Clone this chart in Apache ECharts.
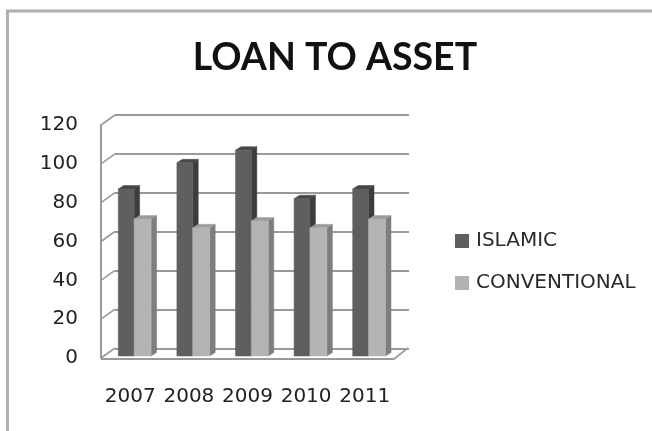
<!DOCTYPE html>
<html><head><meta charset="utf-8">
<style>html,body{margin:0;padding:0;background:#fff}#c{width:652px;height:431px}</style>
<script src="https://cdn.jsdelivr.net/npm/echarts@6/dist/echarts.min.js"></script>
</head><body><div id="c"></div>
<script>
const titleText = 'LOAN TO ASSET';
const categories = ['2007','2008','2009','2010','2011'];
const islamic = [86, 99.5, 106, 81, 86];
const conventional = [70.5, 66, 69.5, 66, 70.5];
const yTicks = [0,20,40,60,80,100,120];
const FONT = '"DejaVu Sans", sans-serif';
const DX = 14, DY = -10, LINE = '#9a9a9a';

function poly(points, fill){
  return {type:'polygon', shape:{points}, style:{fill, stroke:fill, lineWidth:0.5}};
}
function bar3d(offset, wFrac, front, side, top){
  return function(params, api){
    const band = api.size([1,0])[0];
    const base = api.coord([api.value(0), 0]);
    const tip = api.coord([api.value(0), api.value(1)]);
    const x0 = base[0] + band*offset, x1 = x0 + band*wFrac;
    const y0 = base[1] - 2, y1 = tip[1] - 2, dx = 5.5, dy = -3.5;
    return {type:'group', children:[
      poly([[x1,y0],[x1+dx,y0+dy],[x1+dx,y1+dy],[x1,y1]], side),
      poly([[x0,y1],[x1,y1],[x1+dx,y1+dy],[x0+dx,y1+dy]], top),
      poly([[x0,y0],[x1,y0],[x1,y1],[x0,y1]], front)
    ]};
  };
}
function line(a,b,w){
  return {type:'line', shape:{x1:a[0],y1:a[1],x2:b[0],y2:b[1]}, style:{stroke:LINE, lineWidth:w||1.6}};
}
function frame(params, api){
  const v = api.value(0);
  const band = api.size([1,0])[0];
  const p = api.coord([0, v]);
  const left = p[0] - band/2, y = p[1];
  const kids = [line([left,y],[left+DX,y+DY])];
  if (v === 0) {
    const right = left + band*categories.length;
    kids.push(line([left,y+1],[right,y+1],2));
    kids.push(line([right,y+1],[right+DX,y+DY]));
  }
  return {type:'group', children:kids};
}
const chart = echarts.init(document.getElementById('c'), null, {renderer:'canvas'});
chart.setOption({
  animation:false,
  backgroundColor:'#fff',
  title:{text:titleText, left:330, top:34, textAlign:'center',
    textStyle:{fontFamily:'Lato, sans-serif', fontWeight:'bold', fontSize:37.5, color:'#111'}},
  legend:{orient:'vertical', left:450, top:226, itemWidth:14, itemHeight:14, itemGap:22,
    icon:'rect', data:['ISLAMIC','CONVENTIONAL'],
    textStyle:{fontFamily:FONT, fontSize:20, color:'#2a2a2a', padding:[0,0,0,2]}},
  grid:[
    {left:101, top:125, width:293, height:233},
    {left:115, top:115, width:294, height:234}
  ],
  xAxis:[
    {type:'category', gridIndex:0, data:categories, axisLine:{show:false}, axisTick:{show:false},
      axisLabel:{interval:0, hideOverlap:false, margin:29, fontFamily:FONT, fontSize:20, color:'#222'}},
    {type:'category', gridIndex:1, data:categories, show:false}
  ],
  yAxis:[
    {type:'value', gridIndex:0, min:0, max:120, interval:20, splitLine:{show:false},
      axisLine:{show:true, lineStyle:{color:LINE, width:2}}, axisTick:{show:false},
      axisLabel:{margin:23, fontFamily:FONT, fontSize:20, color:'#222'}},
    {type:'value', gridIndex:1, min:0, max:120, interval:20,
      axisLine:{show:false}, axisTick:{show:false}, axisLabel:{show:false},
      splitLine:{show:true, lineStyle:{color:LINE, width:2}}}
  ],
  graphic:[
    {type:'line', shape:{x1:7.5,y1:11,x2:7.5,y2:431}, style:{stroke:'#b0b0b0', lineWidth:3}, silent:true},
    {type:'line', shape:{x1:6,y1:11,x2:652,y2:11}, style:{stroke:'#b0b0b0', lineWidth:3}, silent:true}
  ],
  series:[
    {type:'custom', name:'frame', xAxisIndex:0, yAxisIndex:0, z:1, silent:true,
      data:yTicks.map(v=>[v]), encode:{y:0}, renderItem:frame, clip:false},
    {type:'custom', name:'ISLAMIC', xAxisIndex:0, yAxisIndex:0, z:3, clip:false,
      itemStyle:{color:'#5f5f5f'},
      data:islamic.map((v,i)=>[i,v]), encode:{x:0,y:1},
      renderItem:bar3d(-0.205, 0.27, '#5f5f5f', '#3c3c3c', '#474747')},
    {type:'custom', name:'CONVENTIONAL', xAxisIndex:0, yAxisIndex:0, z:4, clip:false,
      itemStyle:{color:'#b2b2b2'},
      data:conventional.map((v,i)=>[i,v]), encode:{x:0,y:1},
      renderItem:bar3d(0.065, 0.29, '#b4b4b4', '#7e7e7e', '#9c9c9c')}
  ]
});
</script></body></html>
